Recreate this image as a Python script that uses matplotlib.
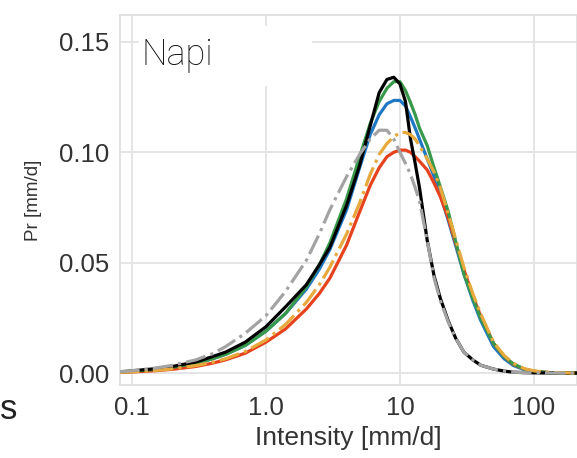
import matplotlib
matplotlib.use("Agg")
import matplotlib.pyplot as plt
from matplotlib.patches import Rectangle

# intensity bins [mm/d]
intensity = [0.08, 0.1, 0.15, 0.2, 0.3, 0.4, 0.5, 0.7, 1.0, 1.4, 2.0, 2.5, 3.0, 4.0, 5.0,
             6.0, 7.0, 8.0, 9.0, 10, 11, 12, 13, 14, 16, 18, 20, 23, 26, 30, 35, 40,
             50, 60, 70, 85, 100, 130, 210]

black = [0.0005, 0.001, 0.002, 0.003, 0.005, 0.0075, 0.0095, 0.014, 0.021, 0.030, 0.040,
         0.049, 0.057, 0.076, 0.094, 0.112, 0.127, 0.133, 0.134, 0.131, 0.123, 0.106,
         0.095, 0.084, 0.060, 0.044, 0.034, 0.0235, 0.016, 0.0095, 0.006, 0.0036, 0.0018,
         0.0009, 0.0004, 0.0002, 0.0001, 0.0, 0.0]
green = [0.0004, 0.0008, 0.0017, 0.0026, 0.0045, 0.0065, 0.0085, 0.0125, 0.019, 0.027, 0.039,
         0.049, 0.059, 0.079, 0.098, 0.113, 0.123, 0.129, 0.132, 0.132, 0.128, 0.1225,
         0.117, 0.111, 0.103, 0.093, 0.0845, 0.073, 0.060, 0.045, 0.034, 0.025, 0.0135,
         0.0075, 0.0042, 0.0018, 0.0008, 0.0002, 0.0]
blue = [0.0004, 0.0008, 0.0017, 0.0026, 0.0045, 0.0065, 0.0085, 0.0125, 0.019, 0.027, 0.038,
        0.047, 0.056, 0.074, 0.093, 0.108, 0.117, 0.122, 0.1235, 0.1235, 0.121, 0.116,
        0.111, 0.106, 0.097, 0.089, 0.081, 0.069, 0.058, 0.045, 0.033, 0.024, 0.012,
        0.0065, 0.0035, 0.0015, 0.0006, 0.0002, 0.0]
yellow = [0.0003, 0.0006, 0.0012, 0.0019, 0.0034, 0.0049, 0.0065, 0.0098, 0.015, 0.022, 0.032,
          0.040, 0.048, 0.063, 0.077, 0.090, 0.099, 0.104, 0.107, 0.109, 0.109, 0.108,
          0.106, 0.103, 0.097, 0.091, 0.084, 0.072, 0.061, 0.048, 0.036, 0.027, 0.014,
          0.008, 0.0045, 0.002, 0.001, 0.0003, 0.0]
red = [0.0003, 0.0005, 0.0011, 0.0017, 0.003, 0.0045, 0.006, 0.009, 0.014, 0.020, 0.029,
       0.036, 0.043, 0.058, 0.073, 0.085, 0.093, 0.098, 0.100, 0.101, 0.101, 0.100,
       0.098, 0.096, 0.092, 0.086, 0.080, 0.070, 0.059, 0.047, 0.035, 0.026, 0.0135,
       0.0075, 0.004, 0.0018, 0.0008, 0.0002, 0.0]
gray = [0.0006, 0.0011, 0.0023, 0.0035, 0.006, 0.0088, 0.012, 0.018, 0.026, 0.037, 0.051,
        0.063, 0.074, 0.089, 0.099, 0.106, 0.110, 0.110, 0.106, 0.100, 0.095, 0.090,
        0.084, 0.078, 0.060, 0.043, 0.033, 0.023, 0.016, 0.0095, 0.006, 0.0036, 0.0018,
        0.0009, 0.0004, 0.0002, 0.0001, 0.0, 0.0]

xticks = [0.1, 1.0, 10, 100]
xticklabels = ["0.1", "1.0", "10", "100"]
yticks = [0.0, 0.05, 0.10, 0.15]
yticklabels = ["0.00", "0.05", "0.10", "0.15"]

plt.rcParams['font.family'] = ['Liberation Sans', 'DejaVu Sans']

fig = plt.figure(figsize=(5.77, 4.58), dpi=100)
ax = fig.add_axes([120 / 577, 73 / 458, 1 - 120 / 577, 370 / 458])

# draw order: blue, red, green, black, yellow, gray on top
lw = 2.3
ax.plot(intensity, blue, color='#1f78c4', lw=lw, zorder=3)
ax.plot(intensity, red, color='#e5421d', lw=lw, zorder=3)
ax.plot(intensity, green, color='#38994a', lw=lw, zorder=4)
ax.plot(intensity, black, color='black', lw=lw, zorder=5)
ax.plot(intensity, yellow, color='#e7a93c', lw=lw, ls='-.', zorder=6)
ax.plot(intensity, gray, color='#a3a3a3', lw=lw, ls='-.', zorder=7)

ax.set_xscale('log')
ax.set_xlim(0.0813, 210)
ax.set_ylim(-0.0054, 0.1622)
ax.set_xticks(xticks)
ax.set_xticklabels(xticklabels)
ax.minorticks_off()
ax.set_yticks(yticks)
ax.set_yticklabels(yticklabels)
ax.tick_params(length=0, labelsize=18.5, colors='#333333', pad=8)
ax.grid(True, color='#e3e3e3', lw=1.3)
ax.set_axisbelow(True)
for s in ax.spines.values():
    s.set_color('#dddddd')
    s.set_linewidth(1.2)

ax.set_xlabel("Intensity [mm/d]", fontsize=19, color='#333333', labelpad=4)
ax.set_ylabel("Pr [mm/d]", fontsize=13.5, color='#333333', labelpad=12)

# station name in a white box
ax.add_patch(Rectangle((0.041, 0.808), 0.38, 0.162, transform=ax.transAxes,
                       facecolor='white', edgecolor='none', zorder=2))
ax.text(0.046, 0.866, "Napi", transform=ax.transAxes, fontsize=26, va='baseline',
        ha='left', family=['Roboto', 'DejaVu Sans'], fontweight='light',
        color='#111111', zorder=8)

# cropped label from neighbouring panel
fig.text(0.0, 0.105, "s", fontsize=25, color='#222222', ha='left', va='center')

fig.savefig("out.png", dpi=100)
